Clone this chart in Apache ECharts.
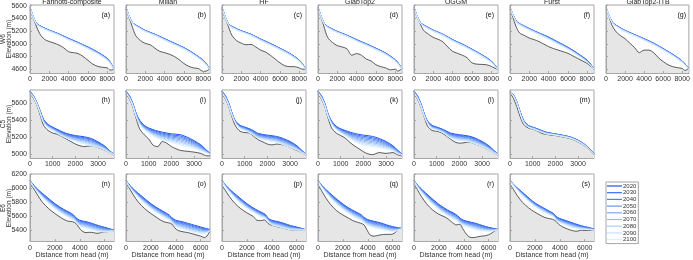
<!DOCTYPE html>
<html><head><meta charset="utf-8">
<script src="https://cdn.jsdelivr.net/npm/echarts@6/dist/echarts.min.js"></script>
<style>html,body{margin:0;padding:0;background:#fff}#c{width:693px;height:260px}</style>
</head><body><div id="c"></div>
<script>
// ---------- labels ----------
const models = ["Farinotti-composite","Millan","HF","GlabTop2","OGGM","Fürst","GlabTop2-ITB"];
const glaciers = ["W6","C5","E6"];
const years = ["2020","2030","2040","2050","2060","2070","2080","2090","2100"];
const letters = [["(a)","(b)","(c)","(d)","(e)","(f)","(g)"],["(h)","(i)","(j)","(k)","(l)","(m)"],["(n)","(o)","(p)","(q)","(r)","(s)"]];
const xLabel = "Distance from head (m)";
const yLabel = "Elevation (m)";

// ---------- tick labels ----------
const xTicksW6 = [0,2000,4000,6000,8000];
const yTicksW6 = [4600,4800,5000,5200,5400,5600];
const xTicksC5 = [0,1000,2000,3000];
const yTicksC5 = [5000,5200,5400,5600];
const xTicksE6 = [0,2000,4000,6000];
const yTicksE6 = [5400,5600,5800,6000,6200];

// ---------- distances from head (m) ----------
const distSurfW6 = [0,300,700,1200,2000,3000,4000,5000,6000,7000,8000,8400,8650];
const distBedW6  = [0,300,600,1000,1500,2000,2500,3000,3500,4000,4500,5000,5500,6000,6500,7000,7500,8000,8300,8650];
const distSurfC5 = [0,150,300,450,600,800,1000,1300,1600,2000,2400,2700,3000,3300,3500,3700];
const distBedC5  = [0,150,300,450,600,800,1000,1200,1400,1600,1800,2000,2200,2400,2700,3000,3300,3500,3700];
const distSurfE6 = [0,300,700,1200,2000,2700,3200,3500,3700,4000,4500,5000,5500,6000,6400,6750];
const distBedE6  = [0,300,600,1000,1500,2000,2500,2800,3100,3400,3700,3900,4200,4500,4800,5100,5400,5700,6000,6300,6500,6750];

// ---------- W6 bed elevations ----------
const bedW6a = [5530,5420,5300,5160,5070,5035,5010,4980,4935,4875,4860,4845,4800,4740,4680,4645,4630,4620,4585,4595];
const bedW6b = [5540,5420,5290,5130,5050,5005,4985,4930,4880,4860,4835,4800,4750,4690,4645,4620,4610,4565,4570,4600];
const bedW6c = [5540,5415,5300,5140,5050,5010,4985,4990,4950,4900,4870,4820,4760,4700,4655,4640,4640,4620,4600,4600];
const bedW6d = [5540,5420,5280,5100,5020,4970,4950,4920,4820,4845,4820,4760,4730,4670,4640,4620,4590,4600,4570,4605];
const bedW6e = [5540,5425,5330,5210,5150,5100,5070,5030,4950,4880,4850,4820,4780,4700,4680,4675,4670,4645,4620,4600];
const bedW6f = [5540,5420,5280,5170,5130,5090,5065,5035,4995,4955,4925,4900,4875,4850,4810,4770,4730,4690,4650,4600];
const bedW6g = [5540,5440,5300,5200,5130,5080,5010,4940,4860,4900,4900,4860,4780,4720,4670,4640,4625,4610,4580,4610];

// ---------- W6 surface elevations, one row per year 2020..2100 ----------
const surfW6a = [
[5575,5440,5320,5270,5215,5155,5085,5020,4950,4870,4770,4690,4610],
[5574,5439,5318,5268,5213,5153,5082,5017,4947,4867,4767,4687,4609],
[5574,5437,5316,5265,5210,5150,5079,5014,4943,4863,4763,4684,4608],
[5573,5436,5314,5263,5208,5147,5076,5011,4940,4860,4760,4681,4607],
[5572,5435,5312,5260,5205,5145,5073,5008,4936,4856,4756,4678,4606],
[5572,5434,5310,5258,5203,5142,5070,5005,4933,4853,4753,4675,4605],
[5571,5432,5308,5255,5200,5140,5067,5001,4929,4849,4749,4672,4603],
[5571,5431,5307,5253,5198,5137,5064,4998,4925,4845,4745,4668,4602],
[5570,5430,5305,5250,5195,5135,5060,4995,4920,4840,4740,4665,4600]];
const surfW6b = [
[5575,5445,5330,5280,5210,5150,5080,5010,4940,4850,4740,4670,4605],
[5574,5443,5328,5277,5207,5147,5077,5007,4937,4847,4737,4667,4604],
[5574,5442,5326,5275,5205,5145,5074,5004,4934,4844,4734,4664,4603],
[5573,5440,5324,5272,5202,5142,5071,5001,4931,4841,4731,4661,4602],
[5572,5439,5322,5270,5200,5140,5068,4998,4928,4838,4728,4659,4602],
[5572,5438,5320,5267,5197,5137,5065,4995,4925,4835,4725,4656,4601],
[5571,5436,5318,5265,5195,5135,5062,4992,4922,4832,4722,4653,4600],
[5571,5435,5316,5262,5192,5132,5059,4989,4919,4829,4719,4650,4600],
[5570,5434,5314,5260,5190,5130,5056,4986,4916,4826,4716,4648,4600]];
const surfW6c = [
[5575,5440,5310,5260,5205,5150,5075,5005,4930,4850,4745,4670,4605],
[5574,5438,5308,5257,5202,5147,5072,5002,4927,4847,4742,4667,4604],
[5574,5437,5306,5255,5200,5145,5069,4999,4924,4844,4739,4665,4603],
[5573,5435,5304,5252,5197,5142,5066,4996,4921,4841,4736,4662,4602],
[5572,5434,5302,5250,5195,5140,5063,4993,4918,4838,4733,4660,4602],
[5572,5433,5300,5247,5192,5137,5060,4990,4915,4835,4730,4657,4601],
[5571,5431,5298,5245,5190,5135,5057,4987,4912,4832,4727,4655,4600],
[5571,5430,5296,5242,5187,5132,5054,4984,4909,4829,4724,4652,4600],
[5570,5429,5294,5240,5185,5130,5051,4981,4906,4826,4721,4650,4600]];
const surfW6d = [
[5575,5440,5310,5255,5195,5135,5065,5000,4930,4855,4750,4680,4615],
[5574,5438,5308,5252,5192,5132,5062,4997,4927,4852,4747,4677,4614],
[5574,5437,5306,5250,5190,5130,5059,4994,4924,4849,4744,4675,4613],
[5573,5435,5304,5247,5187,5127,5056,4991,4921,4846,4741,4672,4612],
[5572,5434,5302,5245,5185,5125,5053,4988,4918,4843,4738,4670,4611],
[5572,5433,5300,5242,5182,5122,5050,4985,4915,4840,4735,4667,4610],
[5571,5431,5298,5240,5180,5120,5047,4982,4912,4837,4732,4665,4609],
[5571,5430,5296,5237,5177,5117,5044,4979,4909,4834,4729,4662,4608],
[5570,5429,5294,5235,5175,5115,5041,4976,4906,4831,4726,4660,4607]];
const surfW6e = [
[5575,5445,5330,5280,5215,5150,5065,4995,4915,4830,4730,4660,4605],
[5574,5443,5328,5277,5212,5147,5062,4992,4912,4827,4727,4657,4604],
[5574,5442,5326,5275,5210,5145,5059,4989,4909,4824,4724,4655,4603],
[5573,5440,5324,5272,5207,5142,5056,4986,4906,4821,4721,4652,4602],
[5572,5439,5322,5270,5205,5140,5053,4983,4903,4818,4718,4650,4602],
[5572,5438,5320,5267,5202,5137,5050,4980,4900,4815,4715,4647,4601],
[5571,5436,5318,5265,5200,5135,5047,4977,4897,4812,4712,4645,4600],
[5571,5435,5316,5262,5197,5132,5044,4974,4894,4809,4709,4642,4600],
[5570,5434,5314,5260,5195,5130,5041,4971,4891,4806,4706,4640,4600]];
const surfW6f = [
[5580,5460,5350,5300,5240,5170,5105,5025,4945,4850,4740,4670,4605],
[5579,5458,5348,5297,5237,5167,5101,5021,4941,4846,4736,4666,4604],
[5579,5457,5346,5295,5234,5164,5097,5017,4937,4842,4732,4663,4603],
[5578,5455,5344,5292,5231,5161,5093,5013,4933,4838,4728,4660,4602],
[5577,5454,5342,5290,5228,5158,5089,5009,4929,4834,4724,4657,4602],
[5577,5453,5340,5287,5225,5155,5085,5005,4925,4830,4720,4654,4601],
[5576,5451,5338,5285,5222,5152,5081,5001,4921,4826,4716,4651,4600],
[5576,5450,5336,5282,5219,5149,5077,4997,4917,4822,4712,4648,4600],
[5575,5449,5334,5280,5216,5146,5073,4993,4913,4818,4708,4645,4600]];
const surfW6g = [
[5580,5455,5335,5280,5210,5145,5080,5010,4925,4835,4730,4665,4620],
[5579,5453,5333,5277,5207,5142,5077,5007,4922,4832,4727,4662,4619],
[5579,5452,5331,5275,5205,5140,5074,5004,4919,4829,4724,4660,4618],
[5578,5450,5329,5272,5202,5137,5071,5001,4916,4826,4721,4657,4617],
[5577,5449,5327,5270,5200,5135,5068,4998,4913,4823,4718,4655,4616],
[5577,5448,5325,5267,5197,5132,5065,4995,4910,4820,4715,4652,4615],
[5576,5446,5323,5265,5195,5130,5062,4992,4907,4817,4712,4650,4614],
[5576,5445,5321,5262,5192,5127,5059,4989,4904,4814,4709,4647,4613],
[5575,5444,5319,5260,5190,5125,5056,4986,4901,4811,4706,4645,4612]];

// ---------- C5 bed elevations ----------
const bedC5h = [5710,5660,5580,5460,5340,5280,5250,5235,5210,5180,5150,5120,5100,5090,5100,5078,5048,5020,4990];
const bedC5i = [5710,5650,5560,5420,5300,5230,5180,5105,5090,5150,5130,5090,5065,5045,5035,5025,5010,4985,4980];
const bedC5j = [5710,5650,5560,5430,5330,5270,5255,5250,5210,5170,5145,5120,5110,5120,5110,5080,5045,5020,4990];
const bedC5k = [5710,5650,5560,5420,5310,5250,5220,5190,5140,5100,5065,5030,5005,4995,5020,5010,5020,4995,4980];
const bedC5l = [5710,5650,5560,5440,5330,5280,5270,5255,5220,5180,5145,5130,5135,5145,5120,5090,5050,5020,4990];
const bedC5m = [5720,5660,5560,5440,5350,5310,5295,5275,5245,5235,5225,5220,5210,5200,5180,5145,5095,5045,4995];

// ---------- C5 surface elevations ----------
const surfC5h = [
[5740,5690,5610,5510,5410,5350,5320,5280,5245,5220,5205,5185,5145,5095,5045,5000],
[5737,5687,5607,5506,5405,5345,5315,5274,5238,5211,5194,5174,5137,5089,5042,4999],
[5735,5685,5605,5502,5400,5340,5310,5267,5231,5202,5184,5164,5129,5084,5039,4999],
[5732,5682,5602,5499,5395,5335,5305,5261,5224,5194,5173,5153,5121,5078,5036,4998],
[5730,5680,5600,5495,5390,5330,5300,5255,5218,5185,5163,5143,5113,5073,5033,4998],
[5727,5677,5597,5491,5385,5325,5295,5249,5211,5176,5152,5132,5104,5067,5029,4997],
[5725,5675,5595,5487,5380,5320,5290,5242,5204,5167,5141,5121,5096,5061,5026,4996],
[5722,5672,5592,5484,5375,5315,5285,5236,5197,5159,5131,5111,5088,5056,5023,4996],
[5720,5670,5590,5480,5370,5310,5280,5230,5190,5150,5120,5100,5080,5050,5020,4995]];
const surfC5i = [
[5740,5690,5600,5480,5400,5340,5310,5280,5260,5240,5230,5200,5160,5110,5060,5010],
[5737,5686,5596,5475,5394,5334,5302,5270,5249,5227,5215,5186,5149,5101,5055,5009],
[5735,5682,5592,5470,5387,5327,5295,5260,5237,5215,5200,5172,5137,5092,5050,5008],
[5732,5679,5589,5465,5381,5321,5287,5250,5226,5202,5185,5159,5126,5084,5045,5006],
[5730,5675,5585,5460,5375,5315,5280,5240,5215,5190,5170,5145,5115,5075,5040,5005],
[5727,5671,5581,5455,5369,5309,5272,5230,5204,5177,5155,5131,5104,5066,5035,5004],
[5725,5667,5577,5450,5362,5302,5265,5220,5192,5165,5140,5117,5092,5057,5030,5003],
[5722,5664,5574,5445,5356,5296,5257,5210,5181,5152,5125,5104,5081,5049,5025,5001],
[5720,5660,5570,5440,5350,5290,5250,5200,5170,5140,5110,5090,5070,5040,5020,5000]];
const surfC5j = [
[5740,5690,5600,5480,5390,5340,5320,5290,5245,5225,5210,5185,5150,5100,5050,5000],
[5737,5686,5596,5476,5386,5335,5315,5284,5237,5217,5201,5176,5141,5094,5046,4999],
[5735,5682,5592,5472,5382,5330,5310,5277,5230,5209,5192,5166,5132,5087,5042,4999],
[5732,5679,5589,5469,5379,5325,5305,5271,5222,5201,5184,5157,5124,5081,5039,4998],
[5730,5675,5585,5465,5375,5320,5300,5265,5215,5192,5175,5147,5115,5075,5035,4998],
[5727,5671,5581,5461,5371,5315,5295,5259,5207,5184,5166,5138,5106,5069,5031,4997],
[5725,5667,5577,5457,5367,5310,5290,5252,5200,5176,5157,5128,5097,5062,5027,4996],
[5722,5664,5574,5454,5364,5305,5285,5246,5192,5168,5149,5119,5089,5056,5024,4996],
[5720,5660,5570,5450,5360,5300,5280,5240,5185,5160,5140,5110,5080,5050,5020,4995]];
const surfC5k = [
[5740,5690,5600,5470,5390,5330,5300,5270,5245,5225,5210,5185,5150,5100,5050,5000],
[5737,5686,5596,5466,5385,5325,5294,5261,5233,5211,5195,5172,5139,5092,5045,4999],
[5735,5682,5592,5462,5380,5320,5287,5252,5221,5196,5180,5159,5127,5085,5040,4998],
[5732,5679,5589,5459,5375,5315,5281,5244,5209,5182,5165,5146,5116,5077,5035,4996],
[5730,5675,5585,5455,5370,5310,5275,5235,5197,5167,5150,5132,5105,5070,5030,4995],
[5727,5671,5581,5451,5365,5305,5269,5226,5186,5153,5135,5119,5094,5062,5025,4994],
[5725,5667,5577,5447,5360,5300,5262,5217,5174,5138,5120,5106,5082,5055,5020,4992],
[5722,5664,5574,5444,5355,5295,5256,5209,5162,5124,5105,5093,5071,5047,5015,4991],
[5720,5660,5570,5440,5350,5290,5250,5200,5150,5110,5090,5080,5060,5040,5010,4990]];
const surfC5l = [
[5740,5690,5600,5480,5390,5340,5320,5290,5250,5230,5215,5190,5150,5100,5050,5000],
[5737,5686,5596,5476,5386,5335,5316,5285,5242,5221,5207,5181,5142,5094,5046,4999],
[5735,5682,5592,5472,5382,5330,5311,5280,5235,5212,5199,5172,5135,5087,5042,4999],
[5732,5679,5589,5469,5379,5325,5307,5275,5227,5204,5191,5164,5127,5081,5039,4998],
[5730,5675,5585,5465,5375,5320,5302,5270,5220,5195,5182,5155,5120,5075,5035,4998],
[5727,5671,5581,5461,5371,5315,5298,5265,5212,5186,5174,5146,5112,5069,5031,4997],
[5725,5667,5577,5457,5367,5310,5294,5260,5205,5177,5166,5137,5105,5062,5027,4996],
[5722,5664,5574,5454,5364,5305,5289,5255,5197,5169,5158,5129,5097,5056,5024,4996],
[5720,5660,5570,5450,5360,5300,5285,5250,5190,5160,5150,5120,5090,5050,5020,4995]];
const surfC5m = [
[5745,5700,5620,5500,5400,5340,5320,5290,5260,5240,5220,5200,5165,5115,5065,5005],
[5744,5698,5617,5497,5397,5337,5317,5287,5257,5238,5218,5198,5163,5113,5063,5004],
[5742,5696,5615,5494,5394,5335,5315,5285,5255,5236,5216,5196,5161,5111,5061,5004],
[5741,5694,5612,5491,5391,5332,5312,5282,5252,5234,5214,5194,5159,5109,5059,5003],
[5740,5692,5610,5488,5388,5330,5310,5280,5250,5232,5212,5192,5157,5107,5057,5003],
[5739,5691,5607,5484,5384,5327,5307,5277,5247,5230,5210,5190,5155,5105,5055,5002],
[5737,5689,5605,5481,5381,5325,5305,5275,5245,5228,5208,5188,5153,5103,5053,5001],
[5736,5687,5602,5478,5378,5322,5302,5272,5242,5226,5206,5186,5151,5101,5051,5001],
[5735,5685,5600,5475,5375,5320,5300,5270,5240,5225,5205,5185,5150,5100,5050,5000]];

// ---------- E6 bed elevations ----------
const bedE6n = [6060,5990,5905,5800,5710,5640,5580,5550,5530,5525,5500,5450,5390,5370,5375,5370,5360,5370,5378,5385,5390,5395];
const bedE6o = [6060,5990,5900,5800,5710,5640,5580,5545,5520,5510,5490,5440,5400,5385,5375,5365,5350,5335,5320,5300,5320,5395];
const bedE6p = [6040,5960,5880,5790,5710,5650,5600,5545,5540,5550,5500,5480,5465,5450,5440,5425,5412,5405,5403,5402,5401,5400];
const bedE6q = [6050,5960,5870,5770,5680,5620,5570,5540,5520,5505,5480,5420,5335,5320,5330,5340,5345,5345,5350,5385,5415,5430];
const bedE6r = [6060,5970,5880,5780,5690,5630,5590,5555,5510,5480,5490,5430,5350,5305,5300,5310,5320,5325,5340,5370,5395,5410];
const bedE6s = [6060,5975,5890,5800,5720,5660,5610,5585,5570,5560,5530,5490,5455,5430,5410,5395,5390,5405,5400,5400,5400,5400];

// ---------- E6 surface elevations ----------
const surfE6n = [
[6110,6040,5970,5895,5780,5700,5655,5620,5580,5545,5525,5500,5470,5445,5425,5405],
[6109,6036,5964,5887,5771,5691,5645,5611,5572,5534,5514,5488,5459,5437,5420,5404],
[6107,6032,5959,5879,5762,5681,5635,5602,5564,5524,5502,5476,5449,5428,5415,5403],
[6106,6029,5953,5871,5754,5672,5625,5594,5556,5513,5491,5464,5438,5420,5410,5401],
[6105,6025,5948,5862,5745,5662,5615,5585,5548,5502,5480,5452,5428,5411,5405,5400],
[6104,6021,5942,5854,5736,5653,5605,5576,5539,5492,5469,5441,5417,5403,5400,5399],
[6102,6017,5936,5846,5727,5643,5595,5568,5531,5481,5457,5429,5406,5395,5395,5397],
[6101,6014,5931,5838,5719,5634,5585,5559,5523,5471,5446,5417,5396,5386,5390,5396],
[6100,6010,5925,5830,5710,5625,5575,5550,5515,5460,5435,5405,5385,5378,5385,5395]];
const surfE6o = [
[6110,6040,5970,5895,5780,5700,5650,5615,5580,5545,5525,5500,5475,5450,5430,5415],
[6109,6036,5964,5887,5771,5691,5640,5606,5571,5534,5513,5487,5462,5439,5421,5412],
[6107,6032,5959,5879,5762,5681,5630,5597,5562,5522,5500,5474,5450,5427,5412,5410],
[6106,6029,5953,5871,5754,5672,5620,5589,5554,5511,5488,5461,5437,5416,5404,5407],
[6105,6025,5948,5862,5745,5662,5610,5580,5545,5500,5475,5448,5425,5405,5395,5405],
[6104,6021,5942,5854,5736,5653,5600,5571,5536,5489,5462,5435,5412,5394,5386,5402],
[6102,6017,5936,5846,5727,5643,5590,5562,5527,5477,5450,5421,5400,5382,5378,5400],
[6101,6014,5931,5838,5719,5634,5580,5554,5519,5466,5437,5408,5387,5371,5369,5397],
[6100,6010,5925,5830,5710,5625,5570,5545,5510,5455,5425,5395,5375,5360,5360,5395]];
const surfE6p = [
[6110,6040,5970,5895,5780,5700,5655,5625,5575,5545,5525,5500,5470,5450,5430,5410],
[6109,6036,5964,5887,5772,5692,5647,5618,5569,5537,5516,5491,5462,5444,5427,5409],
[6107,6032,5959,5879,5764,5685,5639,5611,5564,5529,5507,5482,5455,5439,5424,5409],
[6106,6029,5953,5871,5756,5677,5631,5604,5558,5521,5499,5474,5447,5433,5420,5408],
[6105,6025,5948,5862,5748,5670,5622,5598,5552,5512,5490,5465,5440,5428,5418,5408],
[6104,6021,5942,5854,5739,5662,5614,5591,5547,5504,5481,5456,5432,5422,5415,5407],
[6102,6017,5936,5846,5731,5655,5606,5584,5541,5496,5472,5447,5425,5416,5412,5406],
[6101,6014,5931,5838,5723,5647,5598,5577,5536,5488,5464,5439,5417,5411,5408,5406],
[6100,6010,5925,5830,5715,5640,5590,5570,5530,5480,5455,5430,5410,5405,5405,5405]];
const surfE6q = [
[6110,6040,5970,5890,5775,5695,5650,5620,5585,5555,5530,5510,5480,5455,5440,5430],
[6109,6036,5964,5881,5766,5685,5639,5610,5576,5544,5519,5499,5470,5446,5435,5429],
[6107,6032,5959,5872,5756,5675,5629,5600,5566,5534,5507,5487,5460,5438,5430,5429],
[6106,6029,5953,5864,5747,5665,5618,5590,5557,5523,5496,5476,5450,5429,5425,5428],
[6105,6025,5948,5855,5738,5655,5608,5580,5548,5513,5485,5465,5440,5420,5420,5428],
[6104,6021,5942,5846,5728,5645,5597,5570,5538,5502,5474,5454,5430,5411,5415,5427],
[6102,6017,5936,5838,5719,5635,5586,5560,5529,5491,5462,5442,5420,5403,5410,5426],
[6101,6014,5931,5829,5709,5625,5576,5550,5519,5481,5451,5431,5410,5394,5405,5426],
[6100,6010,5925,5820,5700,5615,5565,5540,5510,5470,5440,5420,5400,5385,5400,5425]];
const surfE6r = [
[6110,6040,5970,5890,5770,5690,5645,5610,5575,5545,5520,5500,5470,5445,5430,5415],
[6109,6036,5964,5881,5761,5680,5634,5600,5566,5536,5510,5489,5461,5438,5426,5414],
[6107,6032,5957,5872,5751,5670,5624,5590,5556,5526,5500,5477,5451,5431,5421,5414],
[6106,6029,5951,5864,5742,5660,5613,5580,5547,5517,5490,5466,5442,5424,5417,5413],
[6105,6025,5945,5855,5733,5650,5603,5570,5538,5508,5480,5455,5433,5418,5413,5413],
[6104,6021,5939,5846,5723,5640,5592,5560,5528,5498,5470,5444,5423,5411,5408,5412],
[6102,6017,5932,5838,5714,5630,5581,5550,5519,5489,5460,5432,5414,5404,5404,5411],
[6101,6014,5926,5829,5704,5620,5571,5540,5509,5479,5450,5421,5404,5397,5399,5411],
[6100,6010,5920,5820,5695,5610,5560,5530,5500,5470,5440,5410,5395,5390,5395,5410]];
const surfE6s = [
[6110,6050,5985,5910,5790,5720,5670,5640,5600,5570,5540,5510,5480,5455,5440,5420],
[6109,6047,5981,5904,5784,5713,5664,5634,5593,5562,5532,5502,5473,5450,5436,5418],
[6109,6045,5976,5897,5777,5706,5658,5629,5586,5555,5524,5494,5466,5445,5432,5416],
[6108,6042,5972,5891,5771,5700,5651,5623,5580,5548,5516,5486,5459,5440,5428,5414],
[6108,6040,5968,5885,5765,5693,5645,5618,5573,5540,5508,5478,5453,5435,5425,5413],
[6107,6037,5963,5879,5759,5686,5639,5612,5566,5532,5499,5469,5446,5430,5421,5411],
[6106,6035,5959,5872,5752,5679,5632,5606,5559,5525,5491,5461,5439,5425,5417,5409],
[6106,6032,5954,5866,5746,5672,5626,5601,5552,5517,5483,5453,5432,5420,5414,5407],
[6105,6030,5950,5860,5740,5665,5620,5595,5545,5510,5475,5445,5425,5415,5410,5405]];

// ---------- assembly ----------
const FONT = '"Liberation Sans", Arial, sans-serif';
const yearColors = ['#1a55ee','#366cf0','#4f80f2','#6794f4','#80a8f6','#98bcf8','#b0d0fa','#c6e2fc','#dbf0ff'];
const colLeft = [30,126,222,318,414,510,606];
const rowTop = [5,90,174];
const W = 84, H = 68;
const rows = [
  {xMax:8700, yMin:4540, yMax:5610, xTicks:xTicksW6, yTicks:yTicksW6, sx:distSurfW6, bx:distBedW6,
   beds:[bedW6a,bedW6b,bedW6c,bedW6d,bedW6e,bedW6f,bedW6g], surfs:[surfW6a,surfW6b,surfW6c,surfW6d,surfW6e,surfW6f,surfW6g]},
  {xMax:3700, yMin:4956, yMax:5756, xTicks:xTicksC5, yTicks:yTicksC5, sx:distSurfC5, bx:distBedC5,
   beds:[bedC5h,bedC5i,bedC5j,bedC5k,bedC5l,bedC5m], surfs:[surfC5h,surfC5i,surfC5j,surfC5k,surfC5l,surfC5m]},
  {xMax:6750, yMin:5250, yMax:6200, xTicks:xTicksE6, yTicks:yTicksE6, sx:distSurfE6, bx:distBedE6,
   beds:[bedE6n,bedE6o,bedE6p,bedE6q,bedE6r,bedE6s], surfs:[surfE6n,surfE6o,surfE6p,surfE6q,surfE6r,surfE6s]}
];
const plain = v => String(v);

const grid = [], xAxis = [], yAxis = [], series = [], graphic = [];
let gi = 0;
rows.forEach((row, r) => {
  row.beds.forEach((bed, c) => {
    grid.push({left: colLeft[c], top: rowTop[r], width: W, height: H, show: true,
      borderColor: '#a6a6a6', borderWidth: 1, backgroundColor: 'rgba(0,0,0,0)'});
    xAxis.push({gridIndex: gi, type: 'value', min: 0, max: row.xMax, z: 5,
      name: r === 2 ? xLabel : '', nameLocation: 'middle', nameGap: 10,
      nameTextStyle: {fontSize: 7, color: '#333', fontFamily: FONT},
      axisLine: {show: true, lineStyle: {color: '#a6a6a6', width: 1}},
      axisTick: {show: true, inside: true, length: 2, customValues: row.xTicks, lineStyle: {color: '#a6a6a6'}},
      axisLabel: {show: true, customValues: row.xTicks, formatter: plain, fontSize: 7, color: '#333', margin: 3, fontFamily: FONT},
      splitLine: {show: false}});
    yAxis.push({gridIndex: gi, type: 'value', min: row.yMin, max: row.yMax, z: 5,
      axisLine: {show: true, lineStyle: {color: '#a6a6a6', width: 1}},
      axisTick: {show: true, inside: true, length: 2, customValues: row.yTicks, lineStyle: {color: '#a6a6a6'}},
      axisLabel: {show: c === 0, customValues: row.yTicks, formatter: plain, fontSize: 7, color: '#333', margin: 3, fontFamily: FONT},
      splitLine: {show: false}});
    series.push({type: 'line', name: 'bed', xAxisIndex: gi, yAxisIndex: gi, symbol: 'none', smooth: 0.3,
      silent: true, z: 2, data: row.bx.map((x, i) => [x, bed[i]]),
      lineStyle: {color: '#333', width: 0.8},
      areaStyle: {color: '#e6e6e6', opacity: 1, origin: 'start'}});
    row.surfs[c].forEach((ys, k) => {
      series.push({type: 'line', name: years[k], xAxisIndex: gi, yAxisIndex: gi, symbol: 'none', smooth: 0.3,
        z: 3, data: row.sx.map((x, i) => [x, ys[i]]),
        lineStyle: {color: yearColors[k], width: 1}, itemStyle: {color: yearColors[k]}});
    });
    graphic.push({type: 'text', x: colLeft[c] + W - 4, y: rowTop[r] + 10, z: 10,
      style: {text: letters[r][c], align: 'right', verticalAlign: 'middle', fontSize: 7, fill: '#111', fontFamily: FONT}});
    gi++;
  });
  graphic.push({type: 'text', x: 6, y: rowTop[r] + H / 2, rotation: Math.PI / 2,
    style: {text: glaciers[r] + '\n' + yLabel, align: 'center', verticalAlign: 'middle', fontSize: 6.5, lineHeight: 6, fill: '#333', fontFamily: FONT}});
});
models.forEach((m, c) => {
  graphic.push({type: 'text', x: colLeft[c] + W / 2, y: 2, style: {text: m, align: 'center', verticalAlign: 'middle', fontSize: 7, fill: '#222', fontFamily: FONT}});
});

const chart = echarts.init(document.getElementById('c'), null, {renderer: 'canvas'});
chart.setOption({
  animation: false,
  backgroundColor: '#fff',
  grid, xAxis, yAxis, series, graphic,
  legend: {data: years, left: 606, top: 182, orient: 'vertical', icon: 'rect', itemWidth: 15, itemHeight: 1.2, itemGap: 0.7,
    padding: [1, 2, 1, 1], borderColor: '#a6a6a6', borderWidth: 1, backgroundColor: '#fff',
    textStyle: {fontSize: 6, lineHeight: 6, color: '#333', fontFamily: FONT, padding: [0, 0, 0, -4]}, selectedMode: false}
});
</script></body></html>
